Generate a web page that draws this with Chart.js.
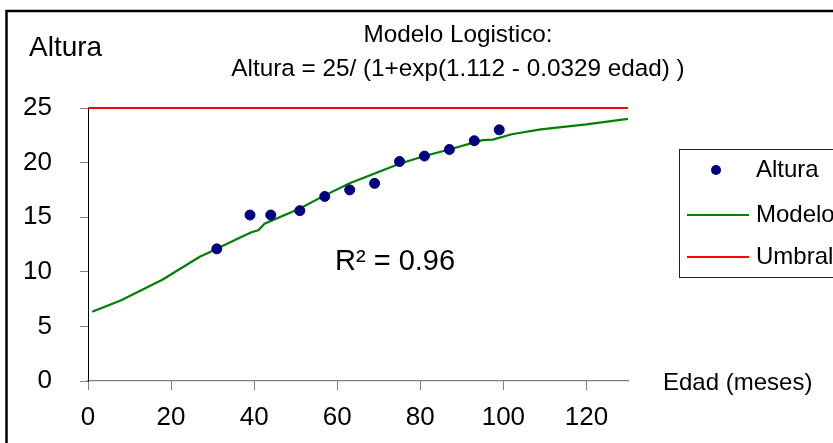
<!DOCTYPE html>
<html>
<head>
<meta charset="utf-8">
<script src="https://cdn.jsdelivr.net/npm/chart.js@4/dist/chart.umd.min.js"></script>
<style>
  html, body { margin: 0; padding: 0; background: #fff; }
  #wrap { width: 833px; height: 443px; }
</style>
</head>
<body>
<div id="wrap"><canvas id="chart" width="833" height="443"></canvas></div>
<script>
// observed points
const edad = [31, 39, 44, 51, 57, 63, 69, 75, 81, 87, 93, 99];
const altura = [12.1, 15.2, 15.2, 15.6, 16.9, 17.5, 18.1, 20.1, 20.6, 21.2, 22.0, 23.0];
// fitted curve
const modeloEdad = [1, 8, 18, 27, 29, 37, 39.5, 41, 42.5, 51, 57, 63, 69, 75, 81, 87, 93, 95, 97.5, 102, 109, 120, 130];
const modeloAltura = [6.35, 7.4, 9.3, 11.4, 11.75, 13.2, 13.65, 13.8, 14.4, 15.8, 17.0, 18.1, 19.0, 19.9, 20.6, 21.2, 21.85, 22.05, 22.1, 22.6, 23.05, 23.5, 24.0];
// threshold
const umbralEdad = [0, 130];
const umbralAltura = [25, 25];

const titulo = ['Modelo Logistico:', 'Altura = 25/ (1+exp(1.112 - 0.0329 edad) )'];
const FONT = '"Liberation Sans", Arial, sans-serif';

const toXY = (xs, ys) => xs.map((x, i) => ({x: x, y: ys[i]}));

const decor = {
  id: 'decor',
  beforeDraw(chart) {
    const ctx = chart.ctx;
    ctx.save();
    ctx.fillStyle = '#fff';
    ctx.fillRect(0, 0, chart.width, chart.height);
    ctx.strokeStyle = '#000';
    ctx.lineWidth = 2.5;
    ctx.strokeRect(6.5, 11, 900, 500);
    ctx.restore();
  },
  afterDraw(chart) {
    const ctx = chart.ctx;
    ctx.save();
    ctx.fillStyle = '#000';
    ctx.textBaseline = 'middle';
    ctx.textAlign = 'center';
    ctx.font = '24.3px ' + FONT;
    ctx.fillText(titulo[0], 458, 35);
    ctx.fillText(titulo[1], 458, 69);

    ctx.textAlign = 'left';
    ctx.font = '28px ' + FONT;
    ctx.fillText('Altura', 29, 48);

    ctx.textBaseline = 'alphabetic';
    ctx.font = '29px ' + FONT;
    ctx.fillText('R\u00b2 = 0.96', 335, 270);
    ctx.font = '24px ' + FONT;
    ctx.fillText('Edad (meses)', 663, 390);

    // legend
    ctx.strokeStyle = '#222';
    ctx.lineWidth = 1;
    ctx.strokeRect(679.5, 149.5, 200, 128);
    const rows = [177, 222, 264];
    chart.data.datasets.forEach((ds, i) => {
      const y = rows[i] - 7;
      if (ds.showLine) {
        ctx.strokeStyle = ds.borderColor;
        ctx.lineWidth = 2;
        ctx.beginPath();
        ctx.moveTo(687, y);
        ctx.lineTo(749, y);
        ctx.stroke();
      } else {
        ctx.fillStyle = ds.backgroundColor;
        ctx.beginPath();
        ctx.arc(716, y, 5, 0, Math.PI * 2);
        ctx.fill();
      }
      ctx.fillStyle = '#000';
      ctx.font = '24px ' + FONT;
      ctx.fillText(ds.label, 756, rows[i]);
    });
    ctx.restore();
  }
};

new Chart(document.getElementById('chart').getContext('2d'), {
  type: 'scatter',
  data: {
    datasets: [{
      label: 'Altura',
      data: toXY(edad, altura),
      backgroundColor: '#000080',
      borderColor: '#000080',
      pointRadius: 5,
      showLine: false
    }, {
      label: 'Modelo',
      data: toXY(modeloEdad, modeloAltura),
      borderColor: '#008000',
      backgroundColor: '#008000',
      borderWidth: 2.2,
      pointRadius: 0,
      showLine: true,
      tension: 0
    }, {
      label: 'Umbral',
      data: toXY(umbralEdad, umbralAltura),
      borderColor: '#ff0000',
      backgroundColor: '#ff0000',
      borderWidth: 2.2,
      pointRadius: 0,
      showLine: true,
      clip: false
    }]
  },
  options: {
    responsive: false,
    animation: false,
    layout: {padding: {left: 0, top: 108, right: 205, bottom: 0}},
    plugins: {legend: {display: false}, tooltip: {enabled: false}},
    scales: {
      x: {
        type: 'linear',
        min: 0,
        max: 130,
        afterFit: s => { s.height = 62; },
        ticks: {stepSize: 20, includeBounds: false, color: '#000', padding: 12,
                font: {family: FONT, size: 26}, maxRotation: 0},
        grid: {drawOnChartArea: false, tickLength: 9, color: '#808080'},
        border: {color: '#808080', width: 1.3}
      },
      y: {
        min: 0,
        max: 25,
        afterFit: s => { s.width = 88; },
        ticks: {stepSize: 5, color: '#000', padding: 28,
                font: {family: FONT, size: 26}},
        grid: {drawOnChartArea: false, tickLength: 8, color: '#808080'},
        border: {color: '#000', width: 1}
      }
    }
  },
  plugins: [decor]
});
</script>
</body>
</html>
